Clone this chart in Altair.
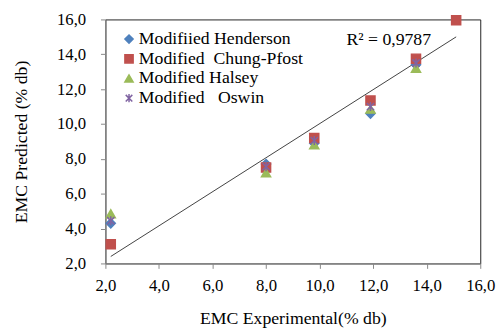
import altair as alt
import pandas as pd

series_names = ["Modifiied Henderson", "Modified\u00a0 Chung-Pfost", "Modified Halsey", "Modified\u00a0\u00a0 Oswin"]
x_experimental = [2.2, 8.0, 9.8, 11.9, 13.6]
x_experimental_cp = [2.2, 8.0, 9.8, 11.9, 13.6, 15.1]
henderson = [4.3, 7.7, 8.9, 10.6, 13.4]
chung_pfost = [3.1, 7.5, 9.2, 11.35, 13.75, 15.95]
halsey = [4.85, 7.2, 8.8, 10.85, 13.2]
oswin = [4.45, 7.55, 9.05, 11.0, 13.5]
trend_x = [2.2, 15.1]
trend_y = [2.4, 15.0]
axis_ticks = [2, 4, 6, 8, 10, 12, 14, 16]
r2_label = "R\u00b2 = 0,9787"

colors = ["#4F81BD", "#C0504D", "#9BBB59", "#8064A2"]
shapes = ["diamond", "square", "triangle-up",
          "M0,-1L0,1M-0.8,-0.8L0.8,0.8M-0.8,0.8L0.8,-0.8"]

rows = []
for name, xs, ys in [(series_names[0], x_experimental, henderson),
                     (series_names[1], x_experimental_cp, chung_pfost),
                     (series_names[2], x_experimental, halsey),
                     (series_names[3], x_experimental, oswin)]:
    for xv, yv in zip(xs, ys):
        rows.append({"model": name, "exp": xv, "pred": yv})
df = pd.DataFrame(rows)
trend = pd.DataFrame({"exp": trend_x, "pred": trend_y})

FONT = "Liberation Serif"
lab = "replace(format(datum.value, '.1f'), '.', ',')"

xscale = alt.Scale(domain=[2, 16], nice=False, zero=False)
yscale = alt.Scale(domain=[2, 16], nice=False, zero=False)

xaxis = alt.Axis(values=axis_ticks, labelExpr=lab, title="EMC Experimental(% db)",
                 labelFontSize=17, labelPadding=10, titlePadding=16)
yaxis = alt.Axis(values=axis_ticks, labelExpr=lab, title="EMC Predicted (% db)",
                 labelFontSize=17, labelPadding=15, titlePadding=26)

line = alt.Chart(trend).mark_line(color="#404040", strokeWidth=1).encode(
    x=alt.X("exp:Q", scale=xscale, axis=xaxis),
    y=alt.Y("pred:Q", scale=yscale, axis=yaxis),
)

legend = alt.Legend(title=None, orient="none", legendX=15, legendY=11, padding=0,
                    labelFont=FONT, labelFontSize=18, labelLimit=0, rowPadding=2,
                    labelOffset=1)

pts = alt.Chart(df).mark_point(filled=True, size=85, strokeWidth=1.5, opacity=1).encode(
    x=alt.X("exp:Q", scale=xscale, axis=xaxis),
    y=alt.Y("pred:Q", scale=yscale, axis=yaxis),
    color=alt.Color("model:N", scale=alt.Scale(domain=series_names, range=colors), legend=legend),
    stroke=alt.Stroke("model:N", scale=alt.Scale(domain=series_names, range=colors), legend=legend),
    shape=alt.Shape("model:N", scale=alt.Scale(domain=series_names, range=shapes), legend=legend),
)

txt = alt.Chart(pd.DataFrame({"t": [r2_label]})).mark_text(
    font=FONT, fontSize=18, color="black", align="center", baseline="middle"
).encode(x=alt.value(288), y=alt.value(21), text="t:N")

chart = alt.layer(line, pts, txt).properties(
    width=381, height=248,
    padding={"left": 99, "top": 9, "right": 16, "bottom": 64},
    autosize=alt.AutoSizeParams(type="none"),
).configure(background="white", font=FONT).configure_view(
    stroke="#222222", strokeWidth=1
).configure_axis(
    grid=False, labelFont=FONT, labelColor="black", labelOverlap=False,
    labelBound=False, labelFlush=False, titleFont=FONT, titleFontSize=18,
    titleFontWeight="normal", titleColor="black", domainColor="#888888",
    tickColor="#888888", tickSize=5,
).configure_legend(
    labelFont=FONT, labelFontSize=18, labelColor="black", labelLimit=0,
    rowPadding=2, symbolSize=70, labelOffset=1, symbolStrokeWidth=1.5, padding=0,
)

chart.save("out.html", embed_options={"renderer": "svg", "actions": False})
